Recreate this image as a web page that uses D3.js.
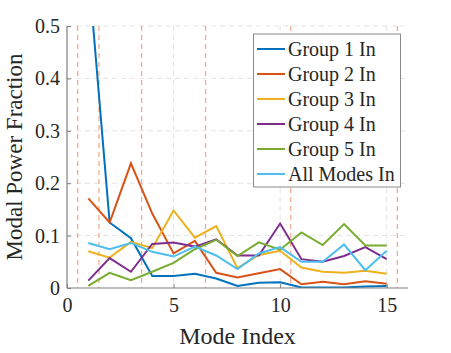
<!DOCTYPE html>
<html>
<head>
<meta charset="utf-8">
<script src="https://cdn.jsdelivr.net/npm/d3@7"></script>
<style>
body { margin: 0; background: #fff; }
svg text { font-family: "Liberation Serif", "Times New Roman", "DejaVu Serif", serif !important; fill: #262626; }
</style>
</head>
<body>
<div id="chart"></div>
<script>
// mode index 1..15
var modes = [1,2,3,4,5,6,7,8,9,10,11,12,13,14,15];
var group1 = [0.61,0.125,0.095,0.023,0.023,0.027,0.018,0.004,0.010,0.011,0.001,0.001,0.001,0.003,0.004];
var group2 = [0.171,0.125,0.238,0.142,0.066,0.090,0.029,0.020,0.028,0.036,0.007,0.012,0.007,0.013,0.008];
var group3 = [0.070,0.058,0.088,0.076,0.148,0.096,0.118,0.038,0.063,0.071,0.039,0.031,0.029,0.033,0.027];
var group4 = [0.014,0.057,0.031,0.084,0.087,0.079,0.093,0.062,0.062,0.123,0.055,0.050,0.061,0.078,0.055];
var group5 = [0.004,0.029,0.015,0.031,0.048,0.074,0.092,0.061,0.087,0.073,0.106,0.082,0.122,0.081,0.081];
var allModes = [0.086,0.074,0.086,0.069,0.060,0.079,0.062,0.036,0.066,0.078,0.050,0.050,0.083,0.034,0.071];
var seriesNames = ["Group 1 In","Group 2 In","Group 3 In","Group 4 In","Group 5 In","All Modes In"];
var seriesColors = ["#0072BD","#D95319","#EDB120","#7E2F8E","#77AC30","#4DBEEE"];
var boundaries = [0.5,1.5,3.5,6.5,10.5,15.5];
var xTicks = [0,5,10,15];
var yTicks = [0,0.1,0.2,0.3,0.4,0.5];

var allSeries = [group1,group2,group3,group4,group5,allModes];
var serif = "'Liberation Serif', 'Times New Roman', 'DejaVu Serif', serif";

var width = 451, height = 353;
var svg = d3.select("#chart").append("svg").attr("width", width).attr("height", height);

var pl = 67, pr = 408, pt = 26, pb = 288;
var x = d3.scaleLinear().domain([0,16]).range([pl,pr]);
var y = d3.scaleLinear().domain([0,0.5]).range([pb,pt]);

svg.append("clipPath").attr("id","clip").append("rect")
	.attr("x", pl).attr("y", pt).attr("width", pr-pl).attr("height", pb-pt);

// grid
svg.selectAll(".ygrid").data(yTicks.slice(1)).enter().append("line")
	.attr("x1", pl).attr("x2", pr)
	.attr("y1", function(d){ return y(d); }).attr("y2", function(d){ return y(d); })
	.attr("stroke", "#e3e3e3").attr("stroke-width", 1).attr("stroke-dasharray", "5,4");
svg.selectAll(".xgrid").data(xTicks.slice(1)).enter().append("line")
	.attr("x1", function(d){ return x(d); }).attr("x2", function(d){ return x(d); })
	.attr("y1", pt).attr("y2", pb)
	.attr("stroke", "#e3e3e3").attr("stroke-width", 1).attr("stroke-dasharray", "5,4");

// group boundaries
svg.selectAll(".bound").data(boundaries).enter().append("line")
	.attr("x1", function(d){ return x(d); }).attr("x2", function(d){ return x(d); })
	.attr("y1", pt).attr("y2", pb)
	.attr("stroke", "#F4A582").attr("stroke-width", 1.2).attr("stroke-dasharray", "5,4");

// lines
var line = d3.line().x(function(d,i){ return x(modes[i]); }).y(function(d){ return y(d); });
var g = svg.append("g").attr("clip-path", "url(#clip)");
for(var i=0;i<allSeries.length;i++)
{
	g.append("path").datum(allSeries[i])
		.attr("d", line)
		.attr("fill", "none")
		.attr("stroke", seriesColors[i])
		.attr("stroke-width", 2);
}

// axes
var yAxis = d3.axisLeft(y).tickValues(yTicks).tickSize(-4).tickPadding(7).tickFormat(function(d){ return d===0 ? "0" : d3.format(".1f")(d); });
var xAxis = d3.axisBottom(x).tickValues(xTicks).tickSize(-4).tickPadding(10);
var ya = svg.append("g").attr("transform", "translate(" + pl + ",0)").call(yAxis);
var xa = svg.append("g").attr("transform", "translate(0," + pb + ")").call(xAxis);
[ya, xa].forEach(function(a){
	a.attr("font-family", serif);
	a.select(".domain").attr("stroke", "#7f7f7f").attr("stroke-width", 1.2);
	a.selectAll(".tick line").attr("stroke", "#7f7f7f");
	a.selectAll(".tick text").style("font-size", "20px").attr("fill", "#262626")
		.style("font-family", serif);
});
xa.select(".domain").attr("d", "M" + pl + ",0H" + pr);
ya.select(".domain").attr("d", "M0," + pt + "V" + pb);

svg.append("text").attr("x", (pl+pr)/2).attr("y", 344)
	.attr("text-anchor", "middle").style("font-family", serif).style("font-size", "24px").text("Mode Index");
svg.append("text").attr("transform", "translate(22," + ((pt+pb)/2) + ") rotate(-90)")
	.attr("text-anchor", "middle").style("font-family", serif).style("font-size", "23px").text("Modal Power Fraction");

// legend
var lg = svg.append("g");
lg.append("rect").attr("x", 253.5).attr("y", 34).attr("width", 147).attr("height", 153)
	.attr("fill", "#fff").attr("stroke", "#8a8a8a").attr("stroke-width", 1);
seriesNames.forEach(function(name, i){
	var cy = 49 + i*25;
	lg.append("line").attr("x1", 257).attr("x2", 285).attr("y1", cy).attr("y2", cy)
		.attr("stroke", seriesColors[i]).attr("stroke-width", 2);
	lg.append("text").attr("x", 288).attr("y", cy).attr("dy", "0.35em")
		.style("font-family", serif).style("font-size", "20px").text(name);
});
</script>
</body>
</html>
